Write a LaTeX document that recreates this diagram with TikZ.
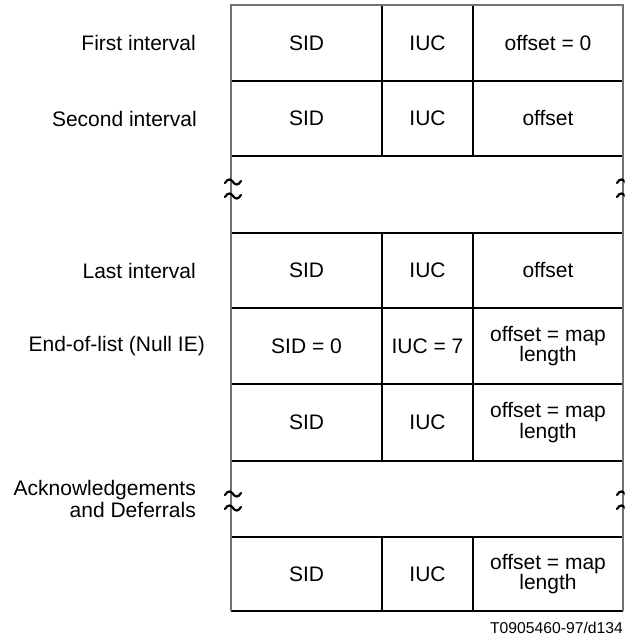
\documentclass[tikz,border=0pt]{standalone}
\usepackage{fontspec}
\setmainfont{Liberation Sans}
\begin{document}
\begin{tikzpicture}[x=1pt,y=-1pt,
  frame/.style={draw=black!55,line width=1.3pt},
  divider/.style={draw=black,line width=2pt},
  celltext/.style={font=\fontsize{21}{20.5}\selectfont,align=center,inner sep=0pt},
  lbl/.style={font=\fontsize{21}{22}\selectfont,align=right,anchor=east,inner sep=0pt},
  squig/.style={draw=black,line width=2.2pt,line cap=round}]
\useasboundingbox (0,0) rectangle (625,639);
\def\L{231}\def\Ca{382}\def\Cb{473}\def\R{623}
% horizontal dividers
\foreach \yy in {81,156,233,308,384,461,537,611}
  \draw[divider] (\L,\yy) -- (\R,\yy);
% column dividers
\foreach \ya/\yb in {5/156,233/461,537/611}{
  \draw[divider] (\Ca,\ya) -- (\Ca,\yb);
  \draw[divider] (\Cb,\ya) -- (\Cb,\yb);}
% outer frame
\draw[frame] (\L,611) -- (\L,5) -- (\R,5) -- (\R,611);
% squiggles
\begin{scope}
\clip (0,0) rectangle (624.5,639);
\foreach \sx/\sy in {233/182,233/196,233/494,233/508,625/182,625/196,625/494,625/508}
  \draw[squig] (\sx-8,\sy+1) .. controls (\sx-5,\sy-4) and (\sx-2,\sy-3) .. (\sx,\sy)
     .. controls (\sx+2,\sy+3) and (\sx+5,\sy+4) .. (\sx+8,\sy-1);
\end{scope}
% cell texts
\def\cs{306.5}\def\ci{427.5}\def\co{548}
\node[celltext] (s1) at (\cs,43) {SID};
\node[celltext] (i1) at (\ci,43) {IUC};
\node[celltext] (o1) at (\co,43) {offset = 0};
\node[celltext] (s2) at (\cs,118.5) {SID};
\node[celltext] (i2) at (\ci,118.5) {IUC};
\node[celltext] (o2) at (\co,118.5) {offset};
\node[celltext] (s3) at (\cs,270.5) {SID};
\node[celltext] (i3) at (\ci,270.5) {IUC};
\node[celltext] (o3) at (\co,270.5) {offset};
\node[celltext] (s4) at (\cs,346) {SID = 0};
\node[celltext] (i4) at (\ci,346) {IUC = 7};
\node[celltext] (o4) at (\co,346) {offset = map\\length};
\node[celltext] (s5) at (\cs,422.5) {SID};
\node[celltext] (i5) at (\ci,422.5) {IUC};
\node[celltext] (o5) at (\co,422.5) {offset = map\\length};
\node[celltext] (s6) at (\cs,574) {SID};
\node[celltext] (i6) at (\ci,574) {IUC};
\node[celltext] (o6) at (\co,574) {offset = map\\length};
% labels
\node[lbl] (l1) at (196,43) {First interval};
\node[lbl] (l2) at (197,118.5) {Second interval};
\node[lbl] (l3) at (196,270.5) {Last interval};
\node[lbl] (l4) at (205,346) {End-of-list (Null IE)};
\node[lbl] (l5) at (196,499) {Acknowledgements\\and Deferrals};
% caption
\node[font=\fontsize{15.7}{18}\selectfont,anchor=east,inner sep=0pt] (cap) at (623,628) {T0905460-97/d134};
\end{tikzpicture}
\end{document}
